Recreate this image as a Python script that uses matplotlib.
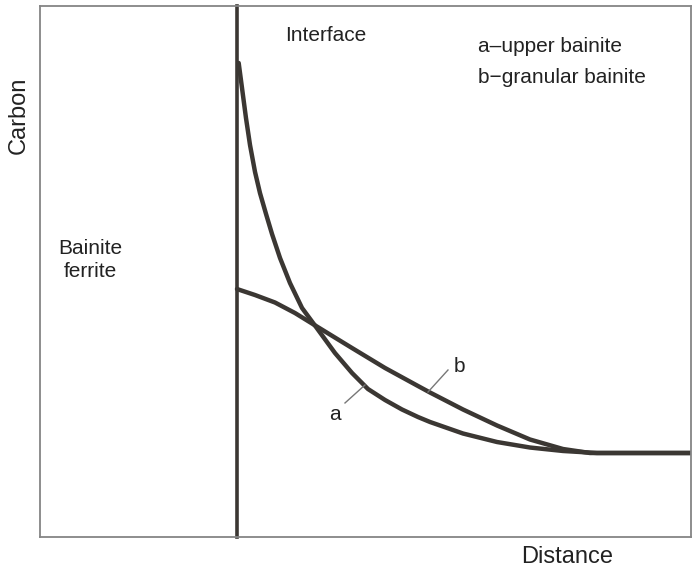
import matplotlib
matplotlib.use("Agg")
import matplotlib.pyplot as plt

plt.rcParams['font.family'] = ['Liberation Sans', 'DejaVu Sans']

# Distance (0-100) and carbon (0-100) in arbitrary units
interface_x = 30.3

a_dist = [30.52, 31.03, 31.64, 32.26, 33.03, 33.79, 34.72, 35.64, 36.87, 38.40, 40.25,
          42.40, 45.31, 47.93, 50.38, 53.00, 55.61, 58.06, 59.91, 64.98, 70.20, 75.27,
          80.34, 85.56, 100.0]
a_carbon = [89.27, 84.56, 78.91, 73.82, 68.74, 64.78, 60.83, 57.06, 52.54, 47.83, 43.13,
            39.55, 34.65, 30.89, 27.87, 25.80, 24.01, 22.60, 21.66, 19.49, 17.89, 16.85,
            16.20, 15.82, 15.82]

b_dist = [30.26, 33.03, 36.10, 39.17, 42.40, 47.93, 53.00, 58.06, 59.91, 64.98, 70.20,
          75.27, 80.34, 84.49, 100.0]
b_carbon = [46.70, 45.57, 44.16, 42.18, 39.74, 35.59, 31.83, 28.44, 27.21, 24.01, 21.00,
            18.36, 16.57, 15.82, 15.82]

curve_color = '#3b3733'

fig = plt.figure(figsize=(7, 5.75), dpi=100)
ax = fig.add_axes([40/700, 1-537/575, 651/700, 531/575])
ax.set_xlim(0, 100)
ax.set_ylim(0, 100)
ax.set_xticks([])
ax.set_yticks([])
for s in ax.spines.values():
    s.set_color('#858585')
    s.set_linewidth(1.3)

ax.axvline(interface_x, color=curve_color, lw=2.6, clip_on=False)
ax.plot(a_dist, a_carbon, color=curve_color, lw=3.2, solid_joinstyle='round', solid_capstyle='round')
ax.plot(b_dist, b_carbon, color=curve_color, lw=3.2, solid_joinstyle='round', solid_capstyle='round')

# leader lines
ax.plot([46.85, 49.92], [25.24, 28.63], color='#777777', lw=1.0)
ax.plot([59.6, 62.67], [27.3, 31.45], color='#777777', lw=1.0)
ax.text(45.3, 23.0, 'a', fontsize=15, ha='center', va='center', color='#222222')
ax.text(64.5, 32.2, 'b', fontsize=15, ha='center', va='center', color='#222222')

ax.text(43.9, 94.5, 'Interface', fontsize=15, ha='center', va='center', color='#222222')
ax.text(67.3, 92.3, 'a\u2013upper bainite', fontsize=15, ha='left', va='center', color='#222222')
ax.text(67.3, 86.6, 'b\u2212granular bainite', fontsize=15, ha='left', va='center', color='#222222')
ax.text(7.8, 52.2, 'Bainite\nferrite', fontsize=15, ha='center', va='center',
        multialignment='center', linespacing=1.25, color='#222222')

fig.text(19/700, 1-115/575, 'Carbon', fontsize=17, rotation=90, ha='center', va='center', color='#222222')
fig.text(567/700, 1-557/575, 'Distance', fontsize=17, ha='center', va='center', color='#222222')

fig.savefig('out.png', dpi=100, facecolor='white')
